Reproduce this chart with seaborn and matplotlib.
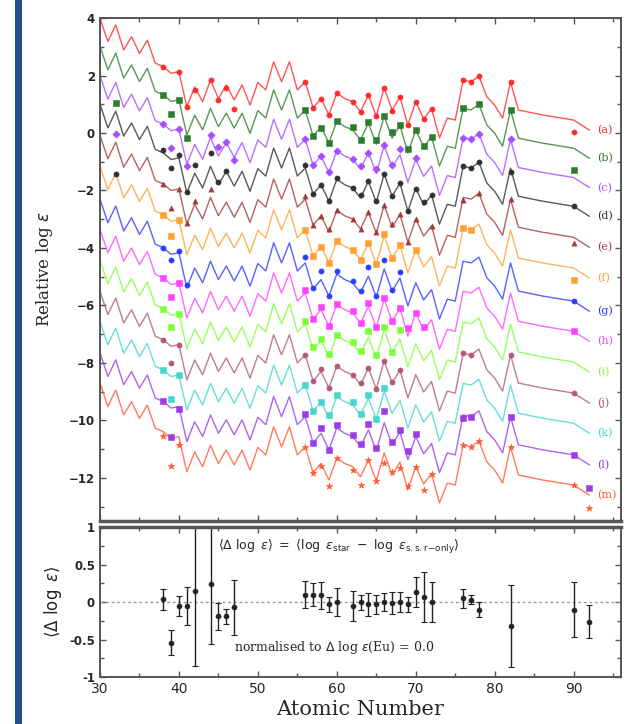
import numpy as np
import pandas as pd
import matplotlib
matplotlib.use("Agg")
import matplotlib.pyplot as plt
import seaborn as sns
from matplotlib.patches import Rectangle
from matplotlib.ticker import MultipleLocator

sns.set_theme(style="ticks")
plt.rcParams["font.family"] = ["DejaVu Sans"]

# ---------------- data ----------------
# scaled solar-system r-process pattern as drawn for star (a)
pattern_Z = [30, 31, 32, 33, 34, 35, 36, 37, 38, 39, 40, 41, 42, 43, 44, 45, 46, 47, 48, 49,
             50, 51, 52, 53, 54, 55, 56, 57, 58, 59, 60, 61, 62, 63, 64, 65, 66, 67, 68, 69,
             70, 71, 72, 73, 74, 75, 76, 77, 78, 79, 80, 81, 82, 83, 86, 90, 92]
pattern_val = [4.00, 3.18, 3.76, 2.89, 3.35, 2.77, 3.23, 2.43, 2.31, 2.08, 2.13, 0.91, 1.60, 1.09,
               1.84, 1.20, 1.67, 1.15, 1.67, 0.97, 1.76, 1.50, 2.48, 1.78, 2.48, 1.50, 1.78, 0.87,
               1.20, 0.63, 1.39, 1.20, 1.09, 0.74, 1.32, 0.59, 1.57, 0.80, 1.25, 0.28, 1.09, 0.49,
               0.85, -0.17, 0.52, 0.45, 1.84, 1.78, 1.98, 1.26, 0.97, 0.52, 1.78, 0.80, 0.63,
               0.45, 0.10]

star_labels = ["(a)", "(b)", "(c)", "(d)", "(e)", "(f)", "(g)", "(h)", "(i)", "(j)", "(k)", "(l)", "(m)"]
star_offsets = [0.0, -0.98, -2.0, -3.0, -4.08, -5.15, -6.3, -7.35, -8.42, -9.5, -10.55, -11.65, -12.7]
star_colors = ["#ff2a2a", "#2e7d2e", "#a64dff", "#303030", "#a33a3a", "#ffa033", "#2a3cff",
               "#ff44ff", "#7cff3a", "#b05a78", "#44d6cf", "#9a3de6", "#ff5a33"]
star_markers = ["o", "s", "D", "o", "^", "s", "o", "s", "s", "o", "s", "s", "*"]

# observed elements (Z) and their offsets from the scaled curve, per star
obs_Z_a = [38, 40, 41, 42, 44, 45, 46, 47, 56, 57, 58, 59, 60, 62, 63, 64, 65, 66, 67, 68, 69, 70, 71, 72, 76, 77, 78, 82, 90]
obs_d_a = [0, 0, 0, -0.1, 0, -0.05, -0.1, -0.3, 0, 0, 0, 0, 0, 0, 0, 0, 0, 0, -0.05, 0, 0, 0, 0, 0, 0, 0, 0, 0, -0.4]
obs_Z_b = [32, 38, 39, 40, 41, 56, 57, 58, 59, 60, 62, 63, 64, 65, 66, 67, 68, 69, 70, 71, 72, 76, 78, 82, 90]
obs_d_b = [-1.75, 0, -0.45, 0, -0.1, 0, 0, -0.05, 0, 0, 0.1, 0, 0.05, 0.15, 0, 0.2, 0, 0.15, 0, 0.05, 0, 0, 0, 0, -0.75]
obs_Z_c = [32, 38, 39, 40, 41, 44, 45, 46, 47, 56, 57, 58, 59, 60, 62, 63, 64, 65, 66, 67, 68, 70, 76, 77, 78, 82]
obs_d_c = [-1.8, 0, -0.6, 0, -0.05, 0.1, 0.3, 0.0, -0.1, 0, 0, 0, 0, 0, 0, 0.1, 0, 0.15, 0, 0.1, 0.2, 0.05, 0, 0, 0, 0]
obs_Z_d = [32, 38, 39, 40, 41, 42, 44, 45, 46, 56, 57, 58, 59, 60, 62, 63, 64, 65, 66, 67, 68, 69, 70, 71, 72, 76, 77, 78, 82, 90]
obs_d_d = [-2.2, 0.1, -0.3, 0.1, 0.05, 0.3, 0.45, 0.1, 0, 0.1, 0, 0, 0, 0.05, 0, 0.1, 0, 0.05, 0, 0, 0, 0, -0.05, 0.1, 0, 0, 0, 0, -0.15, 0]
obs_Z_e = [38, 39, 40, 41, 42, 44, 56, 57, 58, 59, 60, 62, 63, 64, 65, 66, 67, 68, 69, 70, 72, 76, 78, 82, 90]
obs_d_e = [0, -0.6, 0, 0.05, 0.1, 0.3, 0.1, 0, 0, 0.1, 0, 0, 0, 0, 0.05, 0, 0.1, 0, 0, 0, 0, -0.1, 0, 0, -0.2]
obs_Z_f = [38, 39, 40, 56, 57, 58, 59, 60, 62, 63, 64, 65, 66, 67, 68, 70, 76, 77, 90]
obs_d_f = [0, -0.5, 0, 0, 0, 0, 0, 0, 0, 0, 0, 0, 0.05, 0, 0, 0, 0, 0, -0.4]
obs_Z_g = [38, 39, 40, 41, 56, 57, 58, 59, 60, 62, 63, 64, 65, 66, 67, 68, 90]
obs_d_g = [0, -0.2, 0.05, 0.1, 0.2, 0.05, 0.3, 0, 0.1, 0.05, 0.05, 0.3, 0.05, 0.3, 0.05, 0.2, 0]
obs_Z_h = [38, 39, 40, 56, 57, 58, 59, 60, 62, 63, 64, 65, 66, 67, 68, 69, 70, 71, 90]
obs_d_h = [0, -0.45, 0, 0.1, 0, 0.1, 0, 0, 0.05, 0, 0.1, 0, 0.05, 0, 0, 0.3, 0, 0.1, 0]
obs_Z_i = [38, 39, 40, 56, 57, 58, 59, 60, 62, 63, 64, 65, 66, 67, 68]
obs_d_i = [0, -0.4, 0, 0.1, 0.1, 0.05, 0.1, 0, 0.05, 0.1, 0.2, 0.1, 0.1, 0, 0.3]
obs_Z_j = [38, 39, 40, 56, 57, 58, 59, 60, 62, 63, 64, 65, 66, 67, 68, 76, 77, 82, 90]
obs_d_j = [0, -0.6, 0, 0, 0, 0.1, 0, 0, 0, 0.05, 0, 0, 0, 0.05, 0, 0, 0, 0, 0]
obs_Z_k = [38, 39, 40, 56, 57, 58, 59, 60, 62, 63, 64, 65, 66]
obs_d_k = [0, -0.8, 0, 0, 0, 0, 0.1, 0.05, 0.1, 0.05, 0.1, 0, 0.1]
obs_Z_l = [38, 39, 40, 56, 57, 58, 59, 60, 62, 63, 64, 65, 66, 67, 68, 69, 70, 76, 77, 82, 90, 92]
obs_d_l = [0, -1.0, -0.1, 0.1, 0, 0.2, 0, 0.1, 0.05, 0.1, 0.2, 0.1, 0.4, 0.1, 0.05, 0.3, 0.1, -0.1, 0, 0, 0, -0.8]
obs_Z_m = [38, 39, 40, 56, 57, 58, 59, 60, 62, 63, 64, 65, 66, 67, 68, 69, 70, 71, 72, 76, 77, 78, 82, 90, 92]
obs_d_m = [-0.15, -0.95, -0.28, 0, 0, -0.1, -0.2, 0, -0.1, -0.3, 0, 0, -0.35, 0.1, -0.2, 0.15, 0, -0.2, 0, 0, 0, 0, 0, 0, -0.45]

obs_Z = [obs_Z_a, obs_Z_b, obs_Z_c, obs_Z_d, obs_Z_e, obs_Z_f, obs_Z_g, obs_Z_h, obs_Z_i, obs_Z_j, obs_Z_k, obs_Z_l, obs_Z_m]
obs_d = [obs_d_a, obs_d_b, obs_d_c, obs_d_d, obs_d_e, obs_d_f, obs_d_g, obs_d_h, obs_d_i, obs_d_j, obs_d_k, obs_d_l, obs_d_m]

# mean residuals (bottom panel)
mean_Z = [38, 39, 40, 41, 42, 44, 45, 46, 47, 56, 57, 58, 59, 60, 62, 63, 64, 65, 66, 67, 68, 69, 70, 71, 72, 76, 77, 78, 82, 90, 92]
mean_delta = [0.04, -0.54, -0.05, -0.05, 0.15, 0.24, -0.19, -0.19, -0.07, 0.10, 0.10, 0.09, -0.03, 0.0, -0.05,
              0.0, -0.03, -0.03, 0.0, -0.01, 0.0, -0.03, 0.13, 0.07, 0.0, 0.05, 0.03, -0.10, -0.32, -0.10, -0.26]
mean_err = [0.14, 0.17, 0.13, 0.25, 1.0, 0.8, 0.18, 0.10, 0.37, 0.18, 0.15, 0.18, 0.10, 0.19, 0.20,
            0.10, 0.15, 0.13, 0.12, 0.15, 0.13, 0.10, 0.20, 0.33, 0.27, 0.13, 0.06, 0.10, 0.55, 0.37, 0.22]

# ---------------- figure ----------------
fig = plt.figure(figsize=(6.38, 7.24), dpi=100)
fig.patch.set_facecolor("white")
fig.patches.append(Rectangle((15 / 638, 0), 7 / 638, 1, transform=fig.transFigure,
                             facecolor="#1f4f8f", edgecolor="none"))

ax1 = fig.add_axes([0.1567, 0.2804, 0.8167, 0.6947])
ax2 = fig.add_axes([0.1567, 0.0649, 0.8167, 0.2072])

spine_col = "#555555"
for ax in (ax1, ax2):
    ax.set_facecolor("white")
    for s in ax.spines.values():
        s.set_visible(True)
        s.set_color(spine_col)
        s.set_linewidth(1.4)
    ax.tick_params(which="both", direction="in", top=True, right=True, color=spine_col,
                   width=1.0, labelsize=8.5)
    ax.tick_params(which="major", length=4)
    ax.tick_params(which="minor", length=3)
    ax.set_xlim(30, 96)
    ax.xaxis.set_major_locator(MultipleLocator(10))
    ax.xaxis.set_minor_locator(MultipleLocator(5))
    for lab in ax.get_yticklabels():
        lab.set_fontweight("bold")
ax1.spines["bottom"].set_linewidth(2.5)
ax2.spines["top"].set_linewidth(2.5)

# curves + observations
pat = pd.DataFrame({"Z": pattern_Z, "val": pattern_val})
base = dict(zip(pattern_Z, pattern_val))
for i in range(len(star_labels)):
    df = pat.copy()
    df["val"] = df["val"] + star_offsets[i]
    sns.lineplot(data=df, x="Z", y="val", ax=ax1, color=star_colors[i], lw=1.0,
                 alpha=0.8, sort=False, estimator=None)
    od = pd.DataFrame({"Z": obs_Z[i],
                       "val": [base[z] + star_offsets[i] + d for z, d in zip(obs_Z[i], obs_d[i])]})
    sns.scatterplot(data=od, x="Z", y="val", ax=ax1, color=star_colors[i],
                    marker=star_markers[i], s=24 if star_markers[i] == "*" else 14,
                    edgecolor=star_colors[i], linewidth=0.4, zorder=3)
    ax1.text(93.0, pattern_val[-1] + star_offsets[i], star_labels[i], color=star_colors[i],
             fontsize=8, family="DejaVu Serif", va="center", ha="left")

ax1.set_ylim(-13.5, 4)
ax1.yaxis.set_major_locator(MultipleLocator(2))
ax1.yaxis.set_minor_locator(MultipleLocator(1))
ax1.set_xticklabels([])
ax1.set_xlabel("")
ax1.set_ylabel(r"Relative log $\epsilon$", fontsize=12, family="DejaVu Serif", labelpad=10)
for lab in ax1.get_yticklabels():
    lab.set_fontweight("bold")

# bottom panel
ax2.axhline(0, color="#9a9a9a", ls=(0, (2, 2)), lw=1.0, zorder=1)
ax2.errorbar(mean_Z, mean_delta, yerr=mean_err, fmt="none", ecolor="#222222",
             elinewidth=1.0, capsize=2, capthick=0.8, zorder=2)
md = pd.DataFrame({"Z": mean_Z, "d": mean_delta})
sns.scatterplot(data=md, x="Z", y="d", ax=ax2, color="#222222", marker="o", s=14,
                edgecolor="#222222", zorder=3)
ax2.set_ylim(-1, 1)
ax2.set_yticks([-1, -0.5, 0, 0.5, 1])
ax2.set_yticklabels(["-1", "-0.5", "0", "0.5", "1"], fontweight="bold")
ax2.yaxis.set_minor_locator(MultipleLocator(0.25))
ax2.tick_params(axis="x", labelsize=10)
ax2.set_xlabel("Atomic Number", fontsize=15, family="DejaVu Serif", labelpad=3)
ax2.set_ylabel(r"$\langle\Delta\ \log\ \epsilon\rangle$", fontsize=12, labelpad=4)
ax2.text(45, 0.74,
         r"$\langle\Delta\ \log\ \epsilon\rangle\ =\ \langle\log\ \epsilon_{\rm star}\ -\ \log\ \epsilon_{\rm s.s.r\!-\!only}\rangle$",
         fontsize=9, va="center", ha="left")
ax2.text(47, -0.6, r"normalised to $\Delta$ log $\epsilon$(Eu) = 0.0", fontsize=9,
         family="DejaVu Serif", va="center", ha="left")

fig.savefig("out.png", dpi=100)
